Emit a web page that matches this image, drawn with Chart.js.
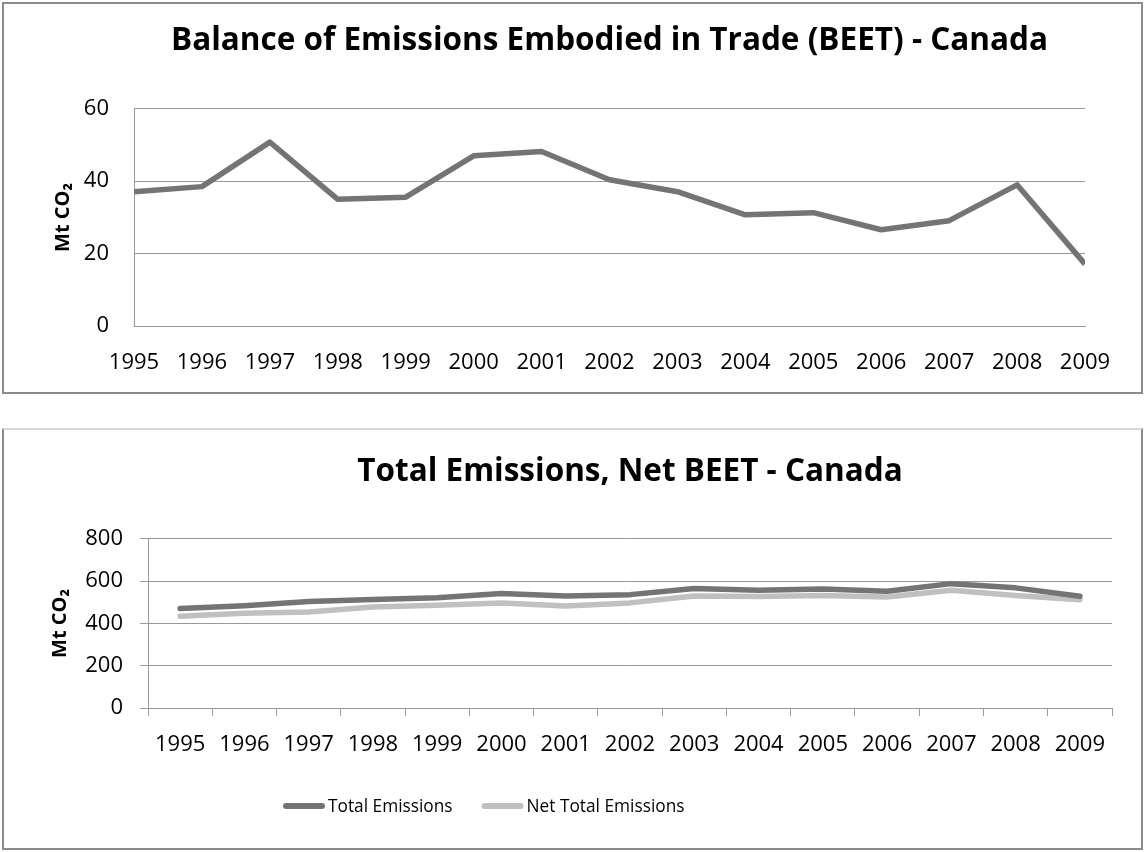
<!DOCTYPE html>
<html>
<head>
<meta charset="utf-8">
<title>BEET - Canada</title>
<script src="https://cdn.jsdelivr.net/npm/chart.js"></script>
<style>
  body { margin: 0; background: #fff; }
  .box { position: absolute; left: 2px; width: 1137px; border: 2px solid #8c8c8c; background: #fff; }
  #box1 { top: 2px; height: 388px; }
  #box2 { top: 428px; height: 418px; border-top-color: #d9d9d9; }
  canvas { display: block; }
</style>
</head>
<body>
<div class="box" id="box1"><canvas id="beetChart" width="1137" height="388"></canvas></div>
<div class="box" id="box2"><canvas id="totalChart" width="1137" height="418"></canvas></div>

<script>
const years = ['1995', '1996', '1997', '1998', '1999', '2000', '2001', '2002',
               '2003', '2004', '2005', '2006', '2007', '2008', '2009'];

// Mt CO2
const beet = [37.1, 38.5, 50.8, 35.0, 35.6, 47.0, 48.2, 40.4, 37.1, 30.7, 31.3, 26.6, 29.1, 39.0, 17.1];
const totalEmissions = [470, 484, 503, 513, 521, 541, 530, 536, 565, 557, 563, 552, 588, 568, 528];
const netTotalEmissions = [434, 448, 454, 478, 486, 497, 482, 497, 530, 527, 532, 525, 557, 532, 512];

const DARK = '#747474';
const LIGHT = '#c0c0c0';
const GRID = '#999999';
const FONT = "'Open Sans', 'DejaVu Sans', sans-serif";

Chart.defaults.font.family = FONT;
Chart.defaults.color = '#000';

// legend drawn as thick line samples followed by the label
const lineKey = {
  id: 'lineKey',
  afterDraw(chart, args, opts) {
    const ctx = chart.ctx;
    let x = opts.x;
    const y = opts.y;
    ctx.save();
    ctx.font = opts.size + 'px ' + FONT;
    ctx.textBaseline = 'middle';
    chart.data.datasets.forEach(ds => {
      ctx.strokeStyle = ds.borderColor;
      ctx.lineWidth = 6;
      ctx.lineCap = 'round';
      ctx.beginPath();
      ctx.moveTo(x + 3, y);
      ctx.lineTo(x + opts.sample - 3, y);
      ctx.stroke();
      x += opts.sample + opts.gap;
      ctx.fillStyle = '#000';
      ctx.fillText(ds.label, x, y + 1);
      x += ctx.measureText(ds.label).width + opts.spacing;
    });
    ctx.restore();
  }
};

function yTitle(pad) {
  return {
    display: true,
    text: 'Mt CO\u2082',
    font: { size: 20, weight: 'bold' },
    padding: { top: pad, bottom: 0 }
  };
}

new Chart(document.getElementById('beetChart'), {
  type: 'line',
  data: {
    labels: years,
    datasets: [{
      label: 'BEET',
      data: beet,
      borderColor: DARK,
      borderWidth: 5.5,
      borderJoinStyle: 'round',
      pointRadius: 0,
      tension: 0,
      clip: 0
    }]
  },
  options: {
    responsive: false,
    animation: false,
    layout: { padding: { left: 0, right: 56, top: 0, bottom: 0 } },
    plugins: {
      legend: { display: false },
      tooltip: { enabled: false },
      title: {
        display: true,
        fullSize: false,
        text: 'Balance of Emissions Embodied in Trade (BEET) - Canada',
        font: { size: 31.5, weight: 'bold' },
        padding: { top: 18, bottom: 49 }
      }
    },
    scales: {
      x: {
        grid: { display: false, drawTicks: false },
        border: { display: true, color: GRID, width: 1 },
        ticks: { font: { size: 22 }, padding: 24, maxRotation: 0, autoSkip: false },
        afterFit: s => { s.height = 66; }
      },
      y: {
        min: 0,
        max: 60,
        ticks: { stepSize: 20, font: { size: 22 }, padding: 25 },
        grid: { color: GRID, lineWidth: 1, drawTicks: false },
        border: { display: true, color: GRID, width: 1 },
        title: yTitle(47),
        afterFit: s => { s.width = 130; }
      }
    }
  }
});

new Chart(document.getElementById('totalChart'), {
  type: 'line',
  data: {
    labels: years,
    datasets: [{
      label: 'Total Emissions',
      data: totalEmissions,
      borderColor: DARK,
      borderWidth: 5.5,
      borderJoinStyle: 'round',
      borderCapStyle: 'round',
      pointRadius: 0,
      tension: 0
    }, {
      label: 'Net Total Emissions',
      data: netTotalEmissions,
      borderColor: LIGHT,
      borderWidth: 5.5,
      borderJoinStyle: 'round',
      borderCapStyle: 'round',
      pointRadius: 0,
      tension: 0
    }]
  },
  options: {
    responsive: false,
    animation: false,
    layout: { padding: { left: 0, right: 29, top: 0, bottom: 80 } },
    plugins: {
      legend: { display: false },
      tooltip: { enabled: false },
      title: {
        display: true,
        fullSize: false,
        text: 'Total Emissions, Net BEET - Canada',
        font: { size: 31.5, weight: 'bold' },
        padding: { top: 23, bottom: 48 }
      },
      lineKey: { x: 279, y: 376, sample: 42, gap: 3, spacing: 29, size: 17.3 }
    },
    scales: {
      x: {
        offset: true,
        grid: { offset: true, drawOnChartArea: false, drawTicks: true, tickLength: 8, color: GRID },
        border: { display: true, color: GRID, width: 1 },
        ticks: { font: { size: 22 }, padding: 16, maxRotation: 0, autoSkip: false },
        afterFit: s => { s.height = 60; }
      },
      y: {
        min: 0,
        max: 800,
        ticks: { stepSize: 200, font: { size: 22 }, padding: 17 },
        grid: { color: GRID, lineWidth: 1, drawTicks: true, tickLength: 8 },
        border: { display: true, color: GRID, width: 1 },
        title: yTitle(44),
        afterFit: s => { s.width = 144; }
      }
    }
  },
  plugins: [lineKey]
});
</script>
</body>
</html>
